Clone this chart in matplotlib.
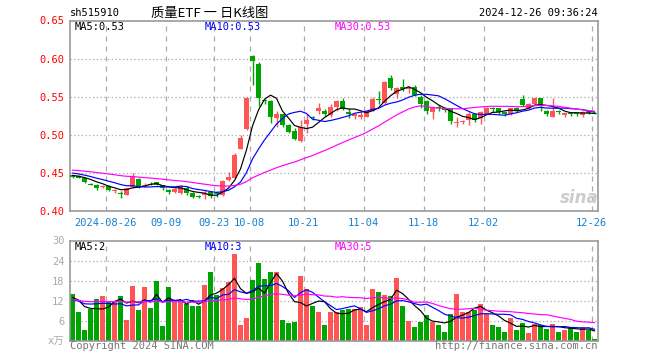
import numpy as np
import pandas as pd
import matplotlib
matplotlib.use("Agg")
import matplotlib.pyplot as plt

W, H = 660, 360

# daily candles, 2024-08-16 .. 2024-12-26 (one per trading day)
opens = [0.447, 0.446, 0.443, 0.436, 0.435, 0.432, 0.433, 0.427, 0.424, 0.422,
         0.432, 0.442, 0.433, 0.436, 0.438, 0.434, 0.428, 0.425, 0.424, 0.430,
         0.424, 0.420, 0.421, 0.425, 0.424, 0.421, 0.441, 0.444, 0.482, 0.508,
         0.604, 0.593, 0.545, 0.544, 0.522, 0.527, 0.513, 0.505, 0.492, 0.514,
         0.523, 0.531, 0.531, 0.526, 0.537, 0.545, 0.530, 0.525, 0.524, 0.524,
         0.532, 0.547, 0.542, 0.575, 0.554, 0.563, 0.560, 0.563, 0.550, 0.544,
         0.530, 0.537, 0.536, 0.535, 0.516, 0.517, 0.519, 0.528, 0.522, 0.528,
         0.536, 0.535, 0.530, 0.527, 0.536, 0.547, 0.535, 0.540, 0.548, 0.532,
         0.524, 0.532, 0.526, 0.529, 0.528, 0.526, 0.531, 0.529]
highs = [0.448, 0.447, 0.444, 0.437, 0.436, 0.435, 0.434, 0.429, 0.426, 0.431,
         0.450, 0.443, 0.437, 0.438, 0.439, 0.435, 0.429, 0.430, 0.434, 0.433,
         0.425, 0.421, 0.428, 0.426, 0.426, 0.441, 0.451, 0.476, 0.500, 0.550,
         0.605, 0.595, 0.547, 0.546, 0.532, 0.528, 0.514, 0.509, 0.520, 0.527,
         0.525, 0.542, 0.534, 0.541, 0.546, 0.549, 0.535, 0.528, 0.530, 0.532,
         0.550, 0.557, 0.571, 0.578, 0.563, 0.574, 0.564, 0.565, 0.552, 0.546,
         0.538, 0.539, 0.537, 0.536, 0.523, 0.520, 0.530, 0.529, 0.531, 0.537,
         0.537, 0.536, 0.531, 0.536, 0.537, 0.553, 0.542, 0.549, 0.549, 0.533,
         0.549, 0.533, 0.530, 0.530, 0.529, 0.531, 0.532, 0.530]
lows = [0.444, 0.443, 0.437, 0.434, 0.428, 0.430, 0.426, 0.424, 0.418, 0.421,
        0.431, 0.431, 0.432, 0.434, 0.434, 0.428, 0.423, 0.424, 0.423, 0.422,
        0.418, 0.417, 0.416, 0.418, 0.419, 0.420, 0.440, 0.443, 0.481, 0.507,
        0.565, 0.538, 0.541, 0.516, 0.510, 0.510, 0.502, 0.494, 0.491, 0.503,
        0.519, 0.527, 0.525, 0.523, 0.532, 0.533, 0.522, 0.521, 0.521, 0.523,
        0.531, 0.541, 0.540, 0.559, 0.549, 0.558, 0.555, 0.551, 0.536, 0.527,
        0.521, 0.532, 0.530, 0.515, 0.510, 0.514, 0.513, 0.517, 0.515, 0.527,
        0.530, 0.528, 0.525, 0.526, 0.530, 0.538, 0.534, 0.539, 0.532, 0.525,
        0.523, 0.528, 0.524, 0.525, 0.525, 0.524, 0.528, 0.527]
closes = [0.445, 0.444, 0.439, 0.435, 0.430, 0.433, 0.428, 0.428, 0.423, 0.430,
          0.445, 0.432, 0.435, 0.435, 0.435, 0.431, 0.425, 0.429, 0.433, 0.424,
          0.419, 0.419, 0.424, 0.420, 0.423, 0.440, 0.445, 0.474, 0.496, 0.548,
          0.597, 0.549, 0.544, 0.523, 0.527, 0.513, 0.504, 0.495, 0.511, 0.519,
          0.522, 0.535, 0.527, 0.537, 0.545, 0.534, 0.527, 0.527, 0.526, 0.532,
          0.547, 0.546, 0.570, 0.562, 0.561, 0.560, 0.563, 0.553, 0.540, 0.531,
          0.537, 0.536, 0.533, 0.518, 0.517, 0.518, 0.528, 0.520, 0.530, 0.536,
          0.534, 0.530, 0.528, 0.535, 0.532, 0.539, 0.541, 0.548, 0.539, 0.527,
          0.532, 0.530, 0.529, 0.528, 0.527, 0.530, 0.529, 0.528]
volumes = [13.9, 8.8, 3.4, 9.7, 12.4, 13.5, 11.7, 11.7, 13.3, 6.4,
           16.3, 9.4, 16.0, 10.0, 17.8, 4.6, 16.0, 11.7, 11.7, 10.9,
           10.3, 10.3, 16.6, 20.5, 13.7, 15.8, 17.6, 26.0, 4.9, 6.8,
           18.1, 23.2, 18.4, 20.6, 20.6, 6.4, 5.3, 5.8, 19.3, 15.4,
           10.3, 8.8, 4.9, 8.8, 8.8, 9.3, 9.7, 9.7, 10.1, 4.9,
           15.4, 14.5, 13.8, 13.5, 18.7, 10.3, 6.1, 4.3, 5.8, 7.7,
           5.8, 4.9, 2.8, 8.2, 13.9, 8.8, 8.8, 9.3, 10.9, 8.2,
           4.9, 4.1, 2.6, 6.8, 3.4, 5.5, 2.5, 5.1, 4.9, 3.7,
           5.1, 2.8, 3.4, 4.1, 2.8, 4.3, 3.4, 0.5]

# estimated sessions before the window, only to start the moving averages
pre_close = [0.462, 0.461, 0.460, 0.459, 0.460, 0.458, 0.457, 0.458, 0.456, 0.455,
             0.456, 0.455, 0.454, 0.453, 0.454, 0.453, 0.452, 0.452, 0.451, 0.452,
             0.454, 0.455, 0.453, 0.452, 0.451, 0.449, 0.448, 0.447, 0.446]
pre_vol = [12.5, 11.8, 13.0, 12.2, 11.5, 12.9, 12.0, 11.6, 13.2, 12.4,
           11.9, 12.7, 12.1, 11.4, 12.8, 12.3, 11.7, 13.1, 12.0, 12.6,
           11.2, 11.8, 10.5, 11.6, 11.9, 12.6, 13.1, 12.4, 12.9]

tick_labels = ["2024-08-26", "09-09", "09-23", "10-08", "10-21",
               "11-04", "11-18", "12-02", "12-26"]
tick_idx = [6, 16, 24, 30, 39, 49, 59, 69, 87]

UP, DOWN = "#ff5555", "#00a400"
GRID = "#aaaaaa"
MONO = "DejaVu Sans Mono"

o, h, l, c = map(np.array, (opens, highs, lows, closes))
v = np.array(volumes)
x = np.arange(len(c))
col = np.where(c >= o, UP, DOWN)
npre = len(pre_close)

full_c = pd.Series(pre_close + closes)
full_v = pd.Series(pre_vol + volumes)
ma_c = {n: full_c.rolling(n, min_periods=1).mean().values[npre:] for n in (5, 10, 30)}
ma_v = {n: full_v.rolling(n, min_periods=1).mean().values[npre:] for n in (5, 10, 30)}
ma_col = {5: "black", 10: "#0000ff", 30: "#ff00ff"}

fig = plt.figure(figsize=(W / 100, H / 100), dpi=100)


def box(left, top, right, bottom):
    return [left / W, 1 - bottom / H, (right - left) / W, (bottom - top) / H]


ax = fig.add_axes(box(70, 20.5, 598, 211.3))
axv = fig.add_axes(box(70, 240.5, 598, 341))

for a in (ax, axv):
    a.set_xlim(-0.42, 87.58)
    for s in a.spines.values():
        s.set_color("#999999")
        s.set_linewidth(1.2)
    a.tick_params(length=0)
    for t in tick_idx:
        a.axvline(t - 0.5, color=GRID, lw=0.9, ls=(0, (4, 4)), zorder=0)

# price panel
ax.set_ylim(0.40, 0.65)
for yv in (0.45, 0.50, 0.55, 0.60):
    ax.axhline(yv, color=GRID, lw=0.9, ls=(0, (1, 2)), zorder=0)
ax.vlines(x, l, h, colors=col, lw=1, zorder=2)
ax.bar(x, np.maximum(np.abs(c - o), 0.0012), bottom=np.minimum(o, c),
       width=0.8, color=col, lw=0, zorder=3)
for n in (5, 10, 30):
    ax.plot(x, ma_c[n], color=ma_col[n], lw=0.85, zorder=4)
ax.set_yticks([0.40, 0.45, 0.50, 0.55, 0.60, 0.65])
ax.set_yticklabels(["%.2f" % t for t in ax.get_yticks()], color="red",
                   family=MONO, fontsize=7.5)
ax.tick_params(axis="y", pad=4)
ax.set_xticks(np.array(tick_idx) - 0.5)
ax.set_xticklabels(tick_labels, color="#1482d2", family=MONO, fontsize=7.5)
ax.tick_params(axis="x", pad=5)
ax.text(0.965, 0.07, "sina", transform=ax.transAxes, ha="center", va="center",
        fontsize=12, style="italic", weight="bold", color="#cccccc", zorder=1)

# volume panel
axv.set_ylim(0, 30)
for yv in (6, 12, 18, 24):
    axv.axhline(yv, color=GRID, lw=0.9, ls=(0, (1, 2)), zorder=0)
axv.bar(x, v, width=0.8, color=col, lw=0, zorder=2)
for n in (5, 10, 30):
    axv.plot(x, ma_v[n], color=ma_col[n], lw=0.85, zorder=3)
axv.set_yticks([0, 6, 12, 18, 24, 30])
axv.set_yticklabels(["x万", "6", "12", "18", "24", "30"], color="#aaaaaa",
                    family=[MONO, "Noto Sans CJK SC"], fontsize=7.5)
axv.tick_params(axis="y", pad=4)
axv.set_xticks([])


def ftext(px, py, s, **kw):
    fig.text(px / W, 1 - py / H, s, va="center", **kw)


ftext(70, 13, "sh515910", family=MONO, fontsize=7.5, color="black")
ftext(210, 13, "质量ETF 一 日K线图", family=["Noto Sans CJK SC", "DejaVu Sans"],
      fontsize=9.5, ha="center", color="black")
ftext(598, 13, "2024-12-26 09:36:24", family=MONO, fontsize=7.5, ha="right")

ftext(75, 27, "MA5:0.53", family=MONO, fontsize=7.5, color="black")
ftext(205, 27, "MA10:0.53", family=MONO, fontsize=7.5, color="#0000ff")
ftext(335, 27, "MA30:0.53", family=MONO, fontsize=7.5, color="#ff00ff")
ftext(75, 247, "MA5:2", family=MONO, fontsize=7.5, color="black")
ftext(205, 247, "MA10:3", family=MONO, fontsize=7.5, color="#0000ff")
ftext(335, 247, "MA30:5", family=MONO, fontsize=7.5, color="#ff00ff")

ftext(70, 346, "Copyright 2024 SINA.COM", family=MONO, fontsize=7.5, color="#777777")
ftext(598, 346, "http://finance.sina.com.cn", family=MONO, fontsize=7.5,
      color="#777777", ha="right")

fig.savefig("out.png", dpi=100)
